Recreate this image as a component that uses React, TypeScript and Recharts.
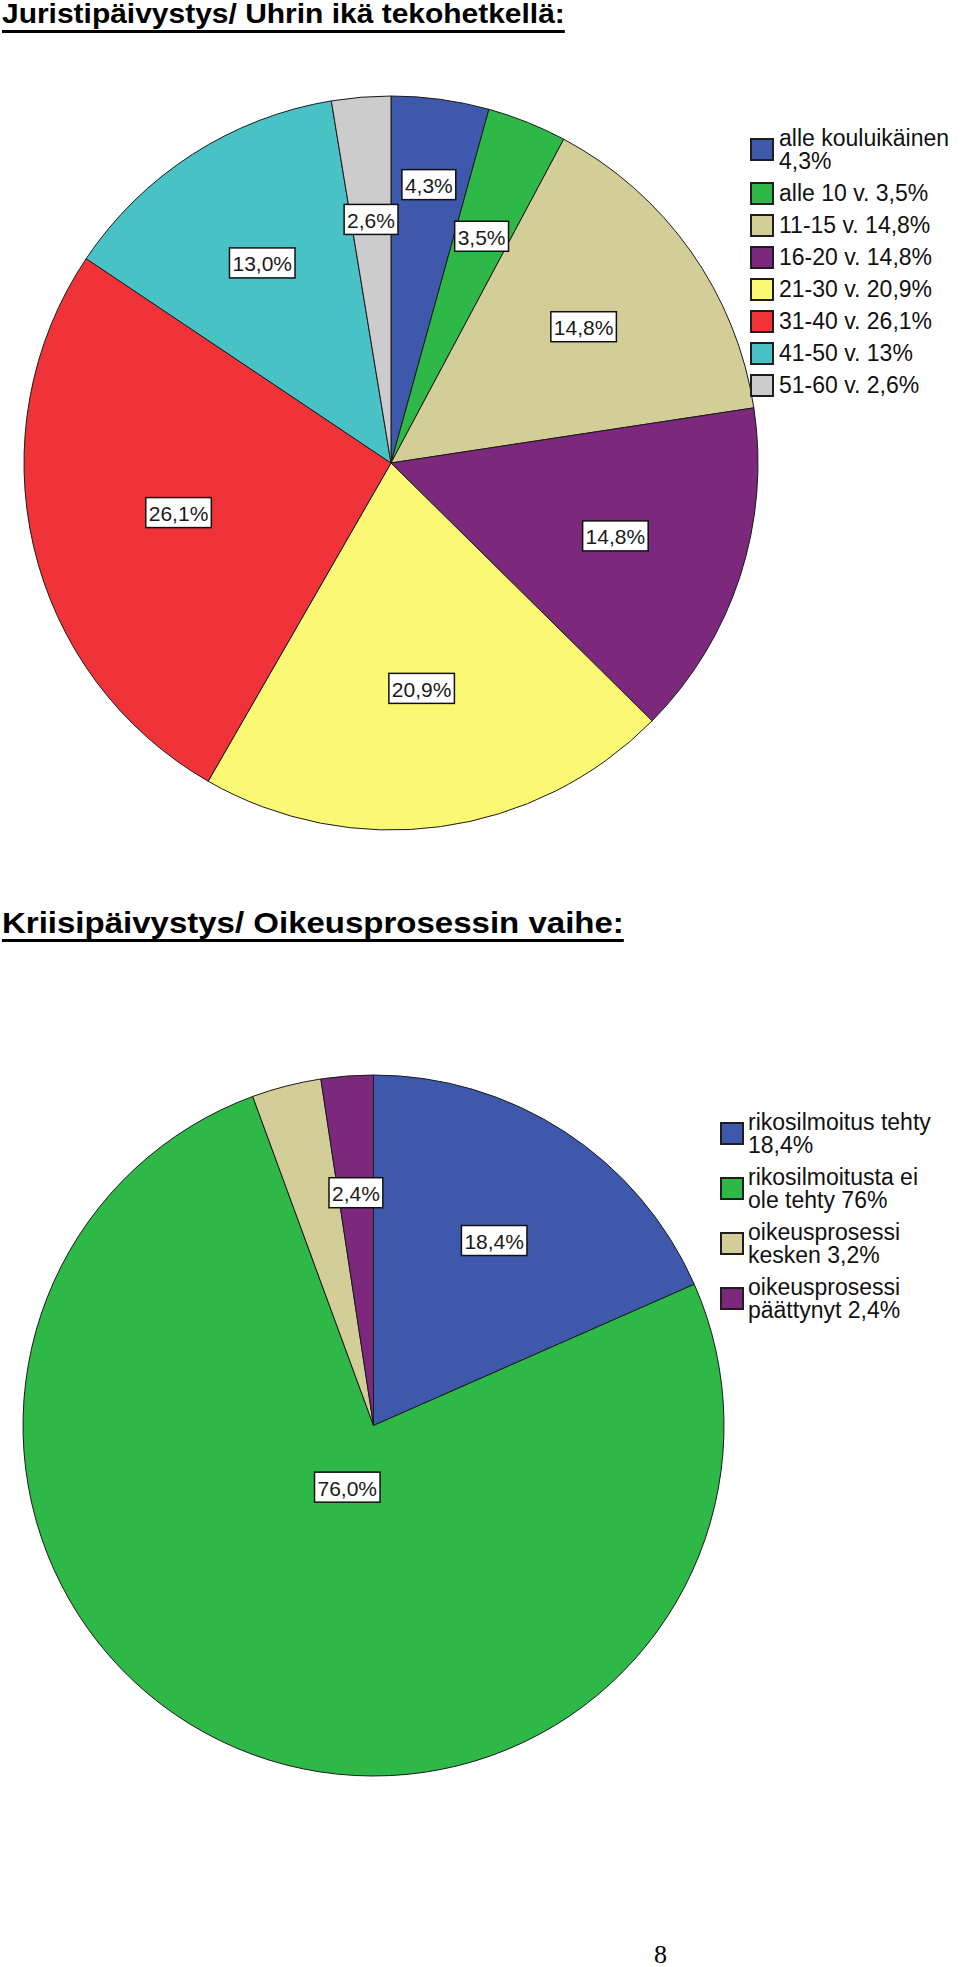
import React from 'react';
import { PieChart, Pie, Cell, Legend } from 'recharts';

// --- data ---
const ageGroups = ['alle kouluikäinen', 'alle 10 v.', '11-15 v.', '16-20 v.', '21-30 v.', '31-40 v.', '41-50 v.', '51-60 v.'];
const agePercents = [4.3, 3.5, 14.8, 14.8, 20.9, 26.1, 13.0, 2.6];

const stageGroups = ['rikosilmoitus tehty', 'rikosilmoitusta ei ole tehty', 'oikeusprosessi kesken', 'oikeusprosessi päättynyt'];
const stagePercents = [18.4, 76.0, 3.2, 2.4];

const titles = ['Juristipäivystys/ Uhrin ikä tekohetkellä:', 'Kriisipäivystys/ Oikeusprosessin vaihe:'];
const pageNumber = '8';

// SPSS default palette
const palette = ['#3E58AC', '#2EB848', '#D3CE97', '#7C287D', '#FBF873', '#EF3338', '#48C2C5', '#CCCCCC'];

const FONT = '"Liberation Sans", Arial, Helvetica, sans-serif';
const LABEL_SIZE = 21;
const RAD = Math.PI / 180;

const labelText = (v: number) => `${v.toFixed(1).replace('.', ',')}%`;
const legendText = (v: number) => `${String(Math.round(v * 10) / 10).replace('.', ',')}%`;

// rough Arial advance widths for the label strings
const charWidth = (c: string) => (c === ',' || c === '.' ? 0.278 : c === '%' ? 0.889 : 0.556);
const textWidth = (s: string, size: number) => s.split('').reduce((a, c) => a + charWidth(c), 0) * size;

interface LabelSpot {
  r: number;
  w: number;
  h: number;
  hidden: boolean;
}

// labels sit at the sector centroid (max 2/3 radius); colliding ones are pushed outward, dropped if no room
const layoutLabels = (values: number[], R: number): LabelSpot[] => {
  const total = values.reduce((a, b) => a + b, 0);
  let acc = 0;
  const spots = values.map((v) => {
    const sweep = (v / total) * 360;
    const mid = 90 - (acc + sweep / 2);
    acc += sweep;
    const half = (sweep / 2) * RAD;
    const centroid = half > 0 ? (2 * R * Math.sin(half)) / (3 * half) : (2 * R) / 3;
    return { mid, r: Math.min((2 * R) / 3, centroid), w: textWidth(labelText(v), LABEL_SIZE) + 6, h: 30, hidden: false };
  });
  const pos = (s: { mid: number; r: number }) => ({ x: s.r * Math.cos(s.mid * RAD), y: -s.r * Math.sin(s.mid * RAD) });
  const margin = 4;
  const hits = (a: any, placed: any[]) => {
    const p = pos(a);
    return placed.some((b) => {
      const q = pos(b);
      const gx = Math.abs(p.x - q.x) - (a.w + b.w) / 2;
      const gy = Math.abs(p.y - q.y) - (a.h + b.h) / 2;
      return gx < margin && gy < margin;
    });
  };
  const placed: any[] = [];
  for (let i = spots.length - 1; i >= 0; i--) {
    const s = spots[i];
    while (hits(s, placed) && s.r <= 0.775 * R) s.r += 1;
    if (hits(s, placed)) s.hidden = true;
    else placed.push(s);
  }
  return spots;
};

const makeLabel = (values: number[], spots: LabelSpot[], R: number) => (props: any) => {
  const { cx, cy, midAngle, outerRadius, index } = props;
  const spot = spots[index];
  if (!spot || spot.hidden) return <g />;
  const r = (spot.r / R) * outerRadius;
  const x = cx + r * Math.cos(-midAngle * RAD);
  const y = cy + r * Math.sin(-midAngle * RAD);
  return (
    <g>
      <rect x={x - spot.w / 2} y={y - spot.h / 2} width={spot.w} height={spot.h} fill="#ffffff" stroke="#111" strokeWidth={1.5} />
      <text x={x} y={y + 8.5} textAnchor="middle" fontFamily={FONT} fontSize={LABEL_SIZE} fill="#1a1a1a">
        {labelText(values[index])}
      </text>
    </g>
  );
};

// legend drawn in data order (Recharts would sort the payload by name)
const makeLegend = (names: string[], values: number[], textW: number, boxGap: number) => () => (
  <div style={{ display: 'flex', flexDirection: 'column', gap: 9, fontFamily: FONT, fontSize: 23, lineHeight: '23px', color: '#111' }}>
    {names.map((name, i) => (
      <div key={`leg-${name}`} style={{ display: 'flex', alignItems: 'center' }}>
        <span
          style={{
            width: 24,
            height: 23,
            boxSizing: 'border-box',
            border: '2px solid #1e1e1e',
            background: palette[i],
            flexShrink: 0,
            marginRight: boxGap,
          }}
        />
        <span style={{ width: textW }}>
          {name} {legendText(values[i])}
        </span>
      </div>
    ))}
  </div>
);

const title = (text: string, top: number, size: number, stretch: number, offset: number, thick: number) => (
  <div
    style={{
      position: 'absolute',
      left: 2,
      top,
      fontFamily: FONT,
      fontWeight: 'bold',
      fontSize: size,
      lineHeight: `${size}px`,
      whiteSpace: 'nowrap',
      color: '#000',
      transform: `scaleX(${stretch})`,
      transformOrigin: 'left top',
      textDecoration: 'underline',
      textUnderlineOffset: `${offset}px`,
      textDecorationThickness: `${thick}px`,
    }}
  >
    {text}
  </div>
);

const R1 = 367;
const R2 = 350.5;

const App = () => {
  const ageData = ageGroups.map((name, i) => ({ name, value: agePercents[i] }));
  const stageData = stageGroups.map((name, i) => ({ name, value: stagePercents[i] }));
  const ageSpots = layoutLabels(agePercents, R1);
  const stageSpots = layoutLabels(stagePercents, R2);

  return (
    <div style={{ position: 'relative', width: 960, height: 1967, overflow: 'hidden', background: '#fff' }}>
      <style>{`body{margin:0}`}</style>

      {title(titles[0], 0, 28, 1.07, 7, 2.5)}

      <div style={{ position: 'absolute', left: 0, top: 0 }}>
        <PieChart width={960} height={880} margin={{ top: 0, right: 0, bottom: 0, left: 0 }}>
          <Pie
            data={ageData}
            dataKey="value"
            nameKey="name"
            cx={391}
            cy={463}
            outerRadius={R1}
            startAngle={90}
            endAngle={-270}
            stroke="#1a1a1a"
            strokeWidth={1}
            labelLine={false}
            label={makeLabel(agePercents, ageSpots, R1)}
            isAnimationActive={false}
          >
            {ageData.map((d, i) => (
              <Cell key={d.name} fill={palette[i]} stroke="#1a1a1a" strokeWidth={1} />
            ))}
          </Pie>
          <Legend
            layout="vertical"
            align="right"
            verticalAlign="top"
            content={makeLegend(ageGroups, agePercents, 181, 5)}
            wrapperStyle={{ left: 750, right: 'auto', top: 126.6, width: 210 }}
          />
        </PieChart>
      </div>

      {title(titles[1], 908.4, 30, 1.1, 6, 3)}

      <div style={{ position: 'absolute', left: 0, top: 950 }}>
        <PieChart width={960} height={900} margin={{ top: 0, right: 0, bottom: 0, left: 0 }}>
          <Pie
            data={stageData}
            dataKey="value"
            nameKey="name"
            cx={373.5}
            cy={475.5}
            outerRadius={R2}
            startAngle={90}
            endAngle={-270}
            stroke="#1a1a1a"
            strokeWidth={1}
            labelLine={false}
            label={makeLabel(stagePercents, stageSpots, R2)}
            isAnimationActive={false}
          >
            {stageData.map((d, i) => (
              <Cell key={d.name} fill={palette[i]} stroke="#1a1a1a" strokeWidth={1} />
            ))}
          </Pie>
          <Legend
            layout="vertical"
            align="right"
            verticalAlign="top"
            content={makeLegend(stageGroups, stagePercents, 195, 4)}
            wrapperStyle={{ left: 720, right: 'auto', top: 160.9, width: 230 }}
          />
        </PieChart>
      </div>

      <div
        style={{
          position: 'absolute',
          left: 654,
          top: 1941.5,
          fontFamily: '"Liberation Serif", "Times New Roman", serif',
          fontSize: 26,
          lineHeight: '26px',
          color: '#000',
        }}
      >
        {pageNumber}
      </div>
    </div>
  );
};

export default App;
